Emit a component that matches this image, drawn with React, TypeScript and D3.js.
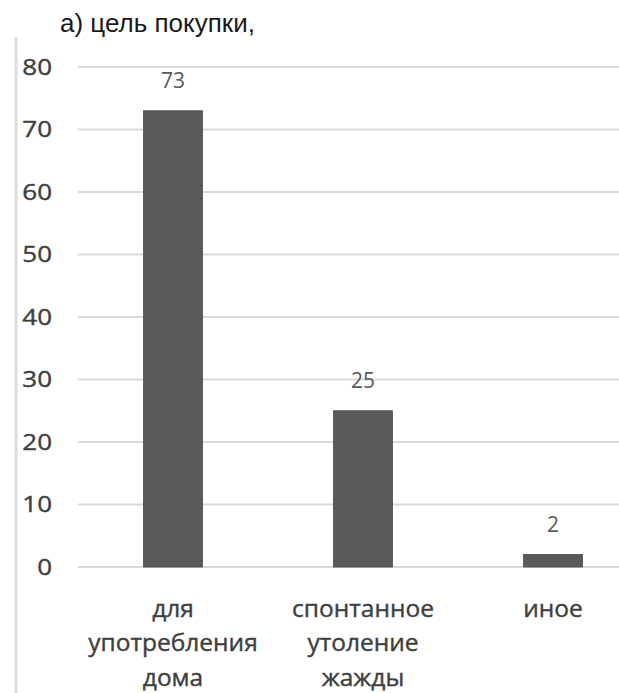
import React from "react";
import * as d3 from "d3";

const categories: string[][] = [
  ["для", "употребления", "дома"],
  ["спонтанное", "утоление", "жажды"],
  ["иное"],
];
const values: number[] = [73, 25, 2];
const yTicks: number[] = [0, 10, 20, 30, 40, 50, 60, 70, 80];
const title = "а) цель покупки,";

export default function App() {
  const W = 619;
  const H = 693;
  const x = d3
    .scaleBand<number>()
    .domain(values.map((_, i) => i))
    .range([78, 648])
    .paddingInner(0.69)
    .paddingOuter(0.345);
  const y = d3.scaleLinear().domain([0, 80]).range([567, 67]);
  const bw = x.bandwidth();
  return (
    <svg
      width={W}
      height={H}
      style={{ position: "absolute", left: 0, top: 0, background: "#fff" }}
    >
      <rect x={0} y={0} width={W} height={H} fill="#fff" />
      <text
        x={60}
        y={32}
        fontFamily="Liberation Sans, Arial, sans-serif"
        fontSize={26}
        fill="#1a1a1a"
      >
        {title}
      </text>
      <line x1={16} x2={16} y1={37} y2={H} stroke="#dcdcdc" strokeWidth={3} />
      {yTicks.map((t) => (
        <g key={t}>
          <line x1={78} x2={W} y1={y(t)} y2={y(t)} stroke="#d9d9d9" strokeWidth={2} />
          <g transform={`translate(52,${y(t)}) scale(1.18,1)`}>
            <text
              x={0}
              y={0}
              dy="0.36em"
              textAnchor="end"
              fontFamily="Open Sans, sans-serif"
              fontSize={22}
              fill="#404040"
              stroke="#404040"
              strokeWidth={0.4}
            >
              {t}
            </text>
          </g>
        </g>
      ))}
      {values.map((v, i) => (
        <g key={i}>
          <rect
            x={x(i)!}
            y={y(v)}
            width={bw}
            height={y(0) - y(v)}
            fill="#595959"
            stroke="#4a4a4a"
            strokeWidth={0.8}
          />
          <text
            x={x(i)! + bw / 2}
            y={y(v) - 30}
            dy="0.36em"
            textAnchor="middle"
            fontFamily="Open Sans, sans-serif"
            fontSize={21}
            fill="#595959"
          >
            {v}
          </text>
          {categories[i].map((line, j) => (
            <text
              key={j}
              x={x(i)! + bw / 2}
              y={608 + j * 34.5}
              dy="0.35em"
              textAnchor="middle"
              fontFamily="Open Sans, sans-serif"
              fontSize={24.5}
              fill="#404040"
              stroke="#404040"
              strokeWidth={0.4}
            >
              {line}
            </text>
          ))}
        </g>
      ))}
    </svg>
  );
}
